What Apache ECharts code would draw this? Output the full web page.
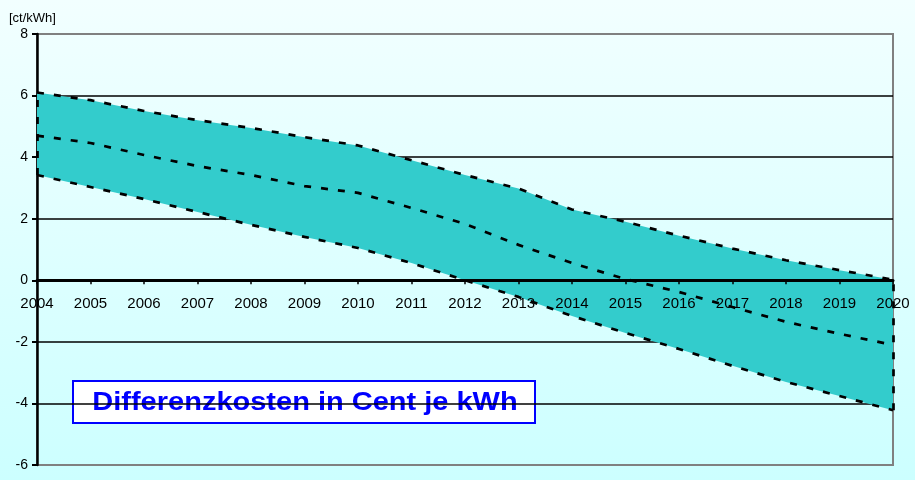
<!DOCTYPE html>
<html>
<head>
<meta charset="utf-8">
<script src="https://cdn.jsdelivr.net/npm/echarts@6/dist/echarts.min.js"></script>
<style>
  html, body { margin: 0; padding: 0; }
  #myCharts { width: 915px; height: 480px; }
</style>
</head>
<body>
<div id="myCharts"></div>
<script>
// Jahre und Werte (ct/kWh)
const years = ["2004", "2005", "2006", "2007", "2008", "2009", "2010", "2011", "2012",
  "2013", "2014", "2015", "2016", "2017", "2018", "2019", "2020"];
const upper = [6.1, 5.85, 5.5, 5.2, 4.95, 4.65, 4.38, 3.9, 3.42, 2.98, 2.3, 1.9, 1.45, 1.03, 0.65, 0.33, 0.02];
const middle = [4.7, 4.46, 4.07, 3.71, 3.42, 3.06, 2.84, 2.35, 1.83, 1.15, 0.56, 0.04, -0.38, -0.87, -1.35, -1.74, -2.1];
const lower = [3.42, 3.03, 2.64, 2.22, 1.8, 1.41, 1.05, 0.56, 0.0, -0.54, -1.16, -1.71, -2.23, -2.78, -3.3, -3.76, -4.22];
const yTicks = [-6, 8, 2]; // min, max, interval

const band = upper.map((v, i) => +(v - lower[i]).toFixed(2));
const last = years.length - 1;

const myCharts = echarts.init(document.getElementById("myCharts"));

// x-Achse auf Höhe der Null-Linie (Plothöhe 431px)
const plotHeight = 431;
const zeroOffset = -plotHeight * (0 - yTicks[0]) / (yTicks[1] - yTicks[0]);

const dashed = {
  color: "#000",
  width: 2.7,
  type: [7, 10]
};

let option = {
  backgroundColor: {
    type: "linear", x: 0, y: 0, x2: 0, y2: 1,
    colorStops: [
      { offset: 0, color: "#F2FFFF" },
      { offset: 1, color: "#CCFFFF" }
    ]
  },
  textStyle: { fontFamily: "Liberation Sans, Arial, sans-serif" },
  grid: {
    left: 37,
    right: 22,
    top: 34,
    bottom: 15,
    outerBoundsMode: "none",
    containLabel: false,
    show: true,
    borderColor: "#808080",
    borderWidth: 2,
    backgroundColor: "transparent"
  },
  xAxis: {
    type: "category",
    data: years,
    boundaryGap: false,
    position: "bottom",
    offset: zeroOffset,
    z: 20,
    axisLine: { onZero: false, lineStyle: { color: "#000", width: 3 } },
    axisTick: { show: true, length: 4, inside: false, lineStyle: { color: "#000", width: 1.5 } },
    axisLabel: { color: "#000", fontSize: 15, margin: 16, interval: 0 },
    splitLine: { show: false }
  },
  yAxis: {
    type: "value",
    min: yTicks[0],
    max: yTicks[1],
    interval: yTicks[2],
    name: "[ct/kWh]",
    nameLocation: "end",
    nameGap: 9,
    nameTextStyle: { color: "#000", fontSize: 13, align: "left", padding: [0, 0, 0, -28] },
    axisLine: { show: true, lineStyle: { color: "#000", width: 2.5 } },
    axisTick: { show: true, length: 5, lineStyle: { color: "#000", width: 2 } },
    axisLabel: { color: "#000", fontSize: 14, margin: 9 },
    splitLine: {
      show: true,
      lineStyle: {
        color: ["#808080", "#000", "#000", "#000", "#000", "#000", "#000", "#808080"],
        width: 1.5
      }
    }
  },
  graphic: [
    {
      type: "group",
      left: 72,
      top: 380,
      z: 100,
      children: [
        {
          type: "rect",
          shape: { x: 0, y: 0, width: 462, height: 42 },
          style: { fill: "#fff", stroke: "#0000FF", lineWidth: 2 }
        },
        {
          type: "text",
          x: 232,
          y: 22,
          scaleX: 1.16,
          style: {
            text: "Differenzkosten in Cent je kWh",
            fill: "#0000FF",
            font: "bold 25px 'Liberation Sans', Arial, sans-serif",
            align: "center",
            verticalAlign: "middle"
          }
        }
      ]
    }
  ],
  series: [
    {
      name: "basis",
      type: "line",
      data: lower,
      stack: "band",
      stackStrategy: "all",
      symbol: "none",
      lineStyle: { width: 0 },
      silent: true
    },
    {
      name: "spanne",
      type: "line",
      data: band,
      stack: "band",
      stackStrategy: "all",
      symbol: "none",
      lineStyle: { width: 0 },
      areaStyle: { color: "#33CCCC", opacity: 1 },
      silent: true
    },
    {
      name: "oben",
      type: "line",
      data: upper,
      symbol: "none",
      z: 25,
      lineStyle: dashed,
      markLine: {
        symbol: "none",
        silent: true,
        label: { show: false },
        lineStyle: dashed,
        data: [
          [{ coord: [years[0], lower[0]] }, { coord: [years[0], upper[0]] }],
          [{ coord: [years[last], lower[last]] }, { coord: [years[last], upper[last]] }]
        ]
      }
    },
    {
      name: "mitte",
      type: "line",
      data: middle,
      symbol: "none",
      z: 25,
      lineStyle: dashed
    },
    {
      name: "unten",
      type: "line",
      data: lower,
      symbol: "none",
      z: 25,
      lineStyle: dashed
    }
  ]
};
myCharts.setOption(option);
</script>
</body>
</html>
